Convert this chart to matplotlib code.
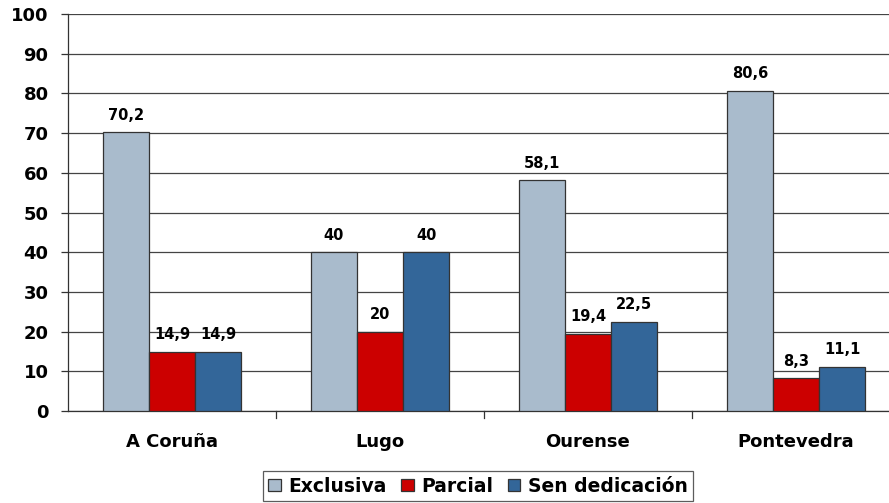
import matplotlib
matplotlib.use("Agg")
import matplotlib.pyplot as plt
import numpy as np

categories = ["A Coruña", "Lugo", "Ourense", "Pontevedra"]
series_names = ["Exclusiva", "Parcial", "Sen dedicación"]
exclusiva = [70.2, 40, 58.1, 80.6]
parcial = [14.9, 20, 19.4, 8.3]
sen_dedicacion = [14.9, 40, 22.5, 11.1]
yticks = [0, 10, 20, 30, 40, 50, 60, 70, 80, 90, 100]

colors = ["#A9BBCC", "#CC0000", "#336699"]

plt.rcParams['font.family'] = ['DejaVu Sans']
fig = plt.figure(figsize=(8.89, 5.03), dpi=100)
ax = fig.add_axes([68/889, 1-411/503, (900-68)/889, (411-14)/503])

x = np.arange(len(categories))
w = 0.222
data = [exclusiva, parcial, sen_dedicacion]
for i, (vals, name, c) in enumerate(zip(data, series_names, colors)):
    pos = x + (i - 1) * w
    ax.bar(pos, vals, w, color=c, edgecolor="#333333", linewidth=0.9, label=name, zorder=3)
    for xp, v in zip(pos, vals):
        lab = ("%g" % v).replace(".", ",")
        ax.text(xp, v + 2.4, lab, ha="center", va="bottom", fontsize=10.5, fontweight="bold", zorder=4)

ax.set_xlim(-0.5, 3.5)
ax.set_ylim(0, 100)
ax.set_yticks(yticks)
ax.set_yticklabels([str(t) for t in yticks], fontsize=13, fontweight="bold")
ax.yaxis.grid(True, color="#444444", linewidth=0.9, zorder=0)
ax.set_axisbelow(True)
ax.set_xticks(x)
ax.set_xticklabels(categories, fontsize=13, fontweight="bold")
ax.tick_params(axis="x", length=0, pad=16)
ax.tick_params(axis="y", length=5, width=0.9, color="#333333", pad=9)
for b in [0.5, 1.5, 2.5]:
    ax.plot([b, b], [0, -1.8], color="#333333", linewidth=0.9, clip_on=False)
for s in ["top", "right"]:
    ax.spines[s].set_visible(False)
ax.spines["left"].set_color("#333333")
ax.spines["bottom"].set_color("#333333")
ax.spines["left"].set_linewidth(0.9)
ax.spines["bottom"].set_linewidth(0.9)

leg = fig.legend(loc="upper center", bbox_to_anchor=(478/889, 1-471/503), ncol=3,
                 prop={"weight": "bold", "size": 13.5}, frameon=True, fancybox=False,
                 edgecolor="#333333", handlelength=0.65, handleheight=0.65,
                 handletextpad=0.4, columnspacing=0.8, borderpad=0.3, borderaxespad=0)
leg.get_frame().set_linewidth(0.9)

fig.savefig("out.png", dpi=100)
